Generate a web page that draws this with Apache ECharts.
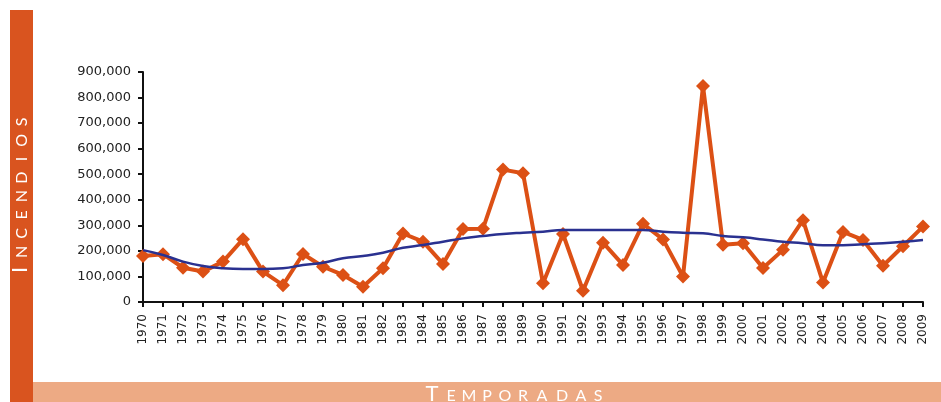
<!DOCTYPE html>
<html>
<head>
<meta charset="utf-8">
<script src="https://cdn.jsdelivr.net/npm/echarts@6/dist/echarts.min.js"></script>
<style>html,body{margin:0;padding:0;background:#fff;}#c{width:941px;height:402px;}</style>
</head>
<body>
<div id="c"></div>
<script>
const years = ['1970','1971','1972','1973','1974','1975','1976','1977','1978','1979','1980','1981','1982','1983','1984','1985','1986','1987','1988','1989','1990','1991','1992','1993','1994','1995','1996','1997','1998','1999','2000','2001','2002','2003','2004','2005','2006','2007','2008','2009'];
const incendios = [180000,187000,134000,119000,158000,246000,119000,66000,188000,138000,106000,60000,132000,268000,236000,149000,286000,287000,518000,504000,73000,266000,44000,232000,145000,306000,245000,100000,845000,224000,230000,133000,204000,320000,76000,274000,243000,142000,218000,295000];
const tendencia = [203000,184000,158000,141000,132000,129000,129000,132000,145000,154000,171000,180000,193000,212000,223000,236000,249000,258000,266000,271000,275000,282000,282000,282000,282000,282000,275000,271000,269000,258000,253000,245000,236000,230000,222000,222000,226000,230000,236000,243000];
const yTicks = [0,100000,200000,300000,400000,500000,600000,700000,800000,900000];
const yTitle = 'INCENDIOS';
const xTitle = 'TEMPORADAS';

const letterFont = 'Lato, "Open Sans", sans-serif';
const graphics = [
  {type:'rect', shape:{x:10,y:10,width:23,height:392}, style:{fill:'#D9541F'}, silent:true, z:0},
  {type:'rect', shape:{x:33,y:382,width:908,height:20}, style:{fill:'#EDAA84'}, silent:true, z:0}
];
// vertical title letters (small caps), baseline at x=27
const yCenters = [270,252,233.4,214.8,196.2,177.6,159,140.4,121.8];
yTitle.split('').forEach((ch,i)=>{
  const size = i===0 ? 22 : 16;
  graphics.push({type:'text', x:27 - 0.33*size, y:yCenters[i], rotation:Math.PI/2, silent:true, z:10,
    style:{text:ch, x:0, y:0, align:'center', verticalAlign:'middle', fill:'#fff',
      font:size+'px '+letterFont}});
});
// horizontal title letters (small caps), baseline at y=401
const xCenters = [432,451,469,487,505,523,542,562,581,598];
xTitle.split('').forEach((ch,i)=>{
  const size = i===0 ? 22 : 16;
  graphics.push({type:'text', x:xCenters[i], y:401 - 0.33*size, silent:true, z:10,
    style:{text:ch, x:0, y:0, align:'center', verticalAlign:'middle', fill:'#fff',
      font:size+'px '+letterFont}});
});

const chart = echarts.init(document.getElementById('c'));
chart.setOption({
  animation:false,
  backgroundColor:'#fff',
  grid:{left:143, right:18, top:72, bottom:100, containLabel:false},
  xAxis:{type:'category', data:years, boundaryGap:false,
    axisLine:{lineStyle:{color:'#111', width:2}},
    axisTick:{show:true, length:5, interval:0, lineStyle:{color:'#111', width:2}},
    axisLabel:{rotate:90, interval:0, margin:12, fontSize:12, color:'#222', fontFamily:'DejaVu Sans'},
    splitLine:{show:false}},
  yAxis:{type:'value', min:yTicks[0], max:yTicks[yTicks.length-1], interval:100000,
    axisLine:{show:true, lineStyle:{color:'#111', width:2}},
    axisTick:{show:true, length:5, lineStyle:{color:'#111', width:2}},
    axisLabel:{margin:12, fontSize:13, color:'#222', fontFamily:'DejaVu Sans',
      formatter:v=>v.toLocaleString('en-US')},
    splitLine:{show:false}},
  series:[
    {type:'line', data:tendencia, smooth:true, symbol:'none', z:3,
      lineStyle:{color:'#2A3190', width:2.5}},
    {type:'line', data:incendios, symbol:'diamond', symbolSize:14, z:2,
      itemStyle:{color:'#DC5015'}, lineStyle:{color:'#DC5015', width:4}}
  ],
  graphic:graphics
});
</script>
</body>
</html>
